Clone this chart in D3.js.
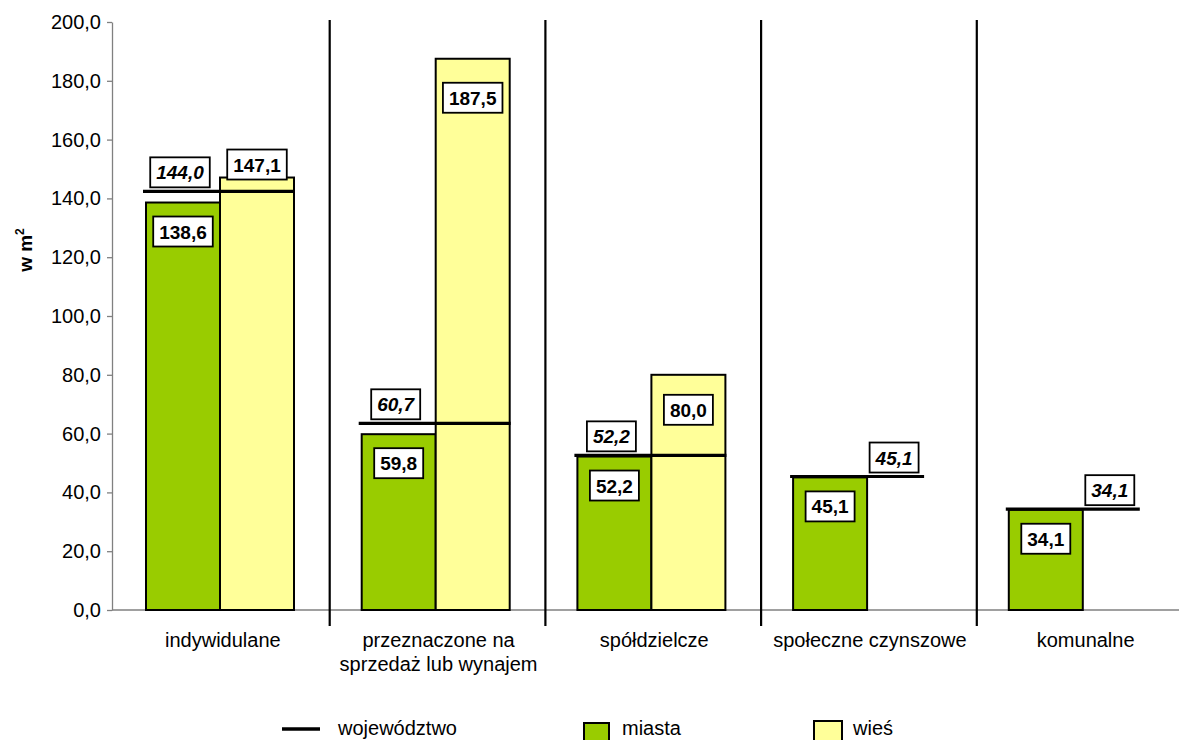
<!DOCTYPE html>
<html>
<head>
<meta charset="utf-8">
<script src="https://cdn.jsdelivr.net/npm/d3@7"></script>
<style>
  body { margin: 0; background: #fff; }
  svg { font-family: Arial, "Liberation Sans", sans-serif; }
</style>
</head>
<body>
<svg id="chart" width="1179" height="740"></svg>
<script>
// data
var categories = [
    ['indywidulane'],
    ['przeznaczone na', 'sprzedaż lub wynajem'],
    ['spółdzielcze'],
    ['społeczne czynszowe'],
    ['komunalne']
];
var miasta = [138.6, 59.8, 52.2, 45.1, 34.1];
var wies = [147.1, 187.5, 80.0, null, null];
var wojLabel = [144.0, 60.7, 52.2, 45.1, 34.1];
var wojLevel = [142.4, 63.5, 52.6, 45.4, 34.3]; // where the line is drawn
var yTicks = [0, 20, 40, 60, 80, 100, 120, 140, 160, 180, 200];

var green = '#99cc00', yellow = '#ffff99';
var fmt = function (v) { return d3.format('.1f')(v).replace('.', ','); };

var svg = d3.select('#chart');
var ids = d3.range(categories.length);

var x = d3.scaleBand().domain(ids).range([113, 113 + 5 * 215.7]).padding(0);
var y = d3.scaleLinear().domain([0, 200]).range([610, 22]);
var bw = 74, off = 33;

// y axis
var yAxis = svg.append('g')
    .attr('transform', 'translate(112,0)')
    .call(d3.axisLeft(y).tickValues(yTicks).tickSizeInner(5).tickSizeOuter(0).tickPadding(6).tickFormat(fmt));
yAxis.select('.domain').attr('stroke', '#808080').attr('stroke-width', 1.3);
yAxis.selectAll('.tick line').attr('stroke', '#808080').attr('stroke-width', 1.3);
yAxis.selectAll('.tick text').attr('font-size', 20).attr('fill', '#000').attr('font-family', 'Arial, "Liberation Sans", sans-serif');

// x axis line
svg.append('line')
    .attr('x1', 112).attr('x2', 1179)
    .attr('y1', y(0)).attr('y2', y(0))
    .attr('stroke', '#808080').attr('stroke-width', 1.3);

// separators between categories
svg.selectAll('.sep').data(ids.slice(1)).enter().append('line')
    .attr('class', 'sep')
    .attr('x1', d => x(d) + 1).attr('x2', d => x(d) + 1)
    .attr('y1', 20).attr('y2', 626)
    .attr('stroke', '#000').attr('stroke-width', 2.2);

// bars
svg.selectAll('.bar-m').data(ids).enter().append('rect')
    .attr('class', 'bar-m')
    .attr('x', d => x(d) + off)
    .attr('y', d => y(miasta[d]))
    .attr('width', bw)
    .attr('height', d => y(0) - y(miasta[d]))
    .attr('fill', green).attr('stroke', '#000').attr('stroke-width', 2);

svg.selectAll('.bar-w').data(ids.filter(d => wies[d] != null)).enter().append('rect')
    .attr('class', 'bar-w')
    .attr('x', d => x(d) + off + bw)
    .attr('y', d => y(wies[d]))
    .attr('width', bw)
    .attr('height', d => y(0) - y(wies[d]))
    .attr('fill', yellow).attr('stroke', '#000').attr('stroke-width', 2);

// województwo lines
svg.selectAll('.woj').data(ids).enter().append('line')
    .attr('class', 'woj')
    .attr('x1', d => x(d) + off - 3)
    .attr('x2', d => wies[d] != null ? x(d) + off + 2 * bw + 1 : x(d) + off + bw + 57)
    .attr('y1', d => y(wojLevel[d])).attr('y2', d => y(wojLevel[d]))
    .attr('stroke', '#000').attr('stroke-width', 3.2);

function labelBox(cx, top, text, italic, anchorBottom) {
    var g = svg.append('g');
    var rect = g.append('rect');
    var t = g.append('text')
        .attr('font-size', 19).attr('font-weight', 'bold')
        .attr('font-style', italic ? 'italic' : 'normal')
        .attr('text-anchor', 'middle')
        .text(text);
    var w = t.node().getComputedTextLength() + 12;
    var h = 30;
    var ty = anchorBottom ? top - h : top;
    rect.attr('x', cx - w / 2).attr('y', ty).attr('width', w).attr('height', h)
        .attr('fill', '#fff').attr('stroke', '#000').attr('stroke-width', 1.8);
    t.attr('x', cx).attr('y', ty + 22);
}

// value labels inside bars
ids.forEach(function (d) {
    var cx = x(d) + off + bw / 2;
    labelBox(cx, y(miasta[d]) + 14, fmt(miasta[d]), false, false);
    if (wies[d] != null) {
        var cw = cx + bw;
        var diff = wies[d] - wojLevel[d];
        if (diff > 0 && diff < 10) labelBox(cw, y(wies[d]) + 2, fmt(wies[d]), false, true);
        else labelBox(cw, y(wies[d]) + (wies[d] > 150 ? 24 : 20), fmt(wies[d]), false, false);
    }
    // województwo label
    var lx = wies[d] != null ? cx - 3 : x(d) + off + bw + 27;
    labelBox(lx, y(wojLevel[d]) - 4, fmt(wojLabel[d]), true, true);
});

// category labels
ids.forEach(function (d) {
    var cx = x(d) + x.bandwidth() / 2 + 2;
    var t = svg.append('text')
        .attr('x', cx)
        .attr('y', 647)
        .attr('text-anchor', 'middle')
        .attr('font-size', 20);
    categories[d].forEach(function (line, i) {
        t.append('tspan').attr('x', cx).attr('dy', i ? 24 : 0).text(line);
    });
});

// y title
var yt = svg.append('text')
    .attr('transform', 'translate(32,250) rotate(-90)')
    .attr('text-anchor', 'middle')
    .attr('font-size', 19).attr('font-weight', 'bold');
yt.append('tspan').text('w m');
yt.append('tspan').attr('dy', -8).attr('font-size', 12).text('2');

// legend
svg.append('line').attr('x1', 282).attr('x2', 320).attr('y1', 729).attr('y2', 729)
    .attr('stroke', '#000').attr('stroke-width', 3.5);
svg.append('text').attr('x', 338).attr('y', 735).attr('font-size', 20).text('województwo');

svg.append('rect').attr('x', 584).attr('y', 723).attr('width', 25).attr('height', 22)
    .attr('fill', green).attr('stroke', '#000').attr('stroke-width', 2);
svg.append('text').attr('x', 622).attr('y', 735).attr('font-size', 20).text('miasta');

svg.append('rect').attr('x', 814).attr('y', 721).attr('width', 28).attr('height', 22)
    .attr('fill', yellow).attr('stroke', '#000').attr('stroke-width', 2);
svg.append('text').attr('x', 853).attr('y', 735).attr('font-size', 20).text('wieś');
</script>
</body>
</html>
